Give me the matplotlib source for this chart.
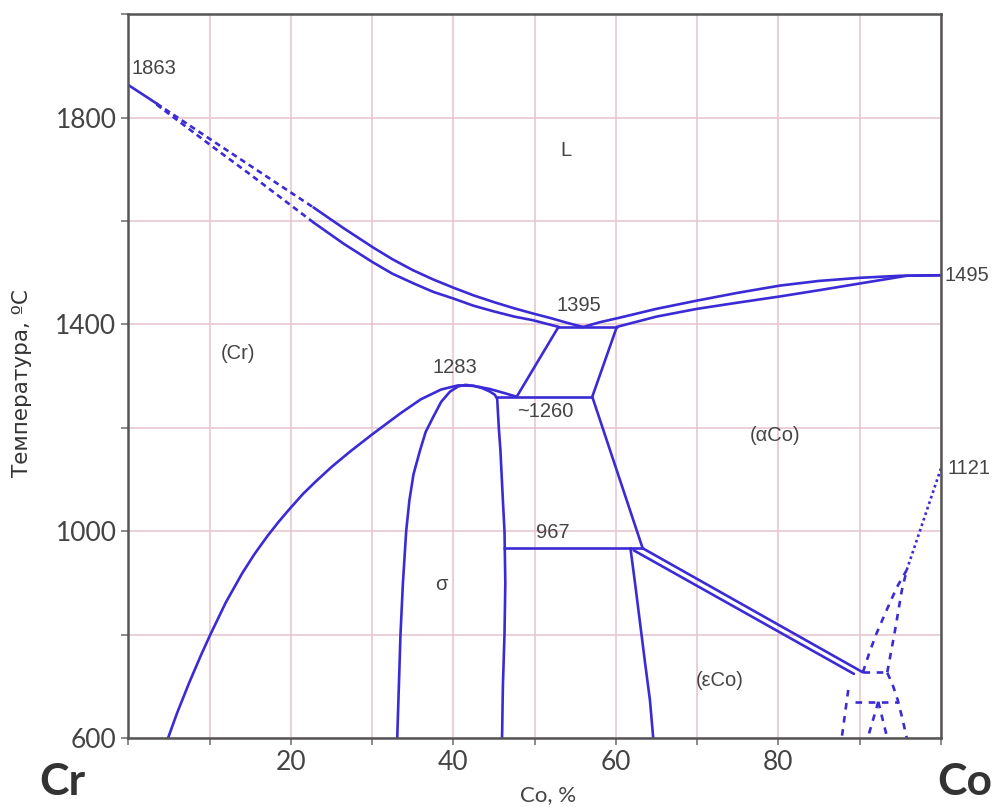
import numpy as np
import matplotlib
matplotlib.use('Agg')
import matplotlib.pyplot as plt

# liquidus / solidus, Cr side (dashed part, then solid part)
liq_cr_dash_x = [0, 3.5, 10, 15, 22.8]
liq_cr_dash_y = [1863, 1827, 1759, 1707, 1626]
sol_cr_dash_x = [0, 3.5, 10, 15, 22.8]
sol_cr_dash_y = [1863, 1825, 1748, 1690, 1597]
liq_cr_x = [22.8, 26.5, 30.1, 32.5, 35, 37.5, 40, 42.5, 45, 47.5, 49.8, 52, 54, 55.2, 56]
liq_cr_y = [1626, 1586, 1549, 1526, 1505, 1487, 1471, 1456, 1443, 1431, 1421, 1412, 1403, 1398, 1395]
sol_cr_x = [22.8, 26.5, 30.1, 32.5, 35, 37.5, 40, 42.5, 45, 47.5, 49.8, 51.5, 53]
sol_cr_y = [1597, 1556, 1520, 1498, 1480, 1463, 1450, 1436, 1425, 1415, 1408, 1401, 1395]

# liquidus / solidus, Co side
liq_co_x = [56, 58, 60.5, 65, 70, 75, 80.2, 85, 90, 95, 100]
liq_co_y = [1395, 1404, 1413, 1430, 1446, 1461, 1475, 1484, 1490, 1494, 1495]
sol_co_x = [60.1, 65, 70, 75, 80.2, 85, 90, 95.8, 100]
sol_co_y = [1395, 1415, 1430, 1442, 1454, 1466, 1479, 1494, 1495]

# (Cr) solvus
cr_solv_x = [4.9, 6, 7.5, 9, 10.1, 12, 14, 15.5, 17.1, 18.5, 19.8, 21.5, 23, 25, 27.3, 30, 33.5, 36,
             38.5, 40.6, 42.5, 44.5, 46.3, 47.8]
cr_solv_y = [600, 648, 707, 762, 800, 862, 918, 955, 990, 1018, 1042, 1072, 1095, 1124, 1154, 1187,
             1228, 1255, 1274, 1282, 1281, 1275, 1267, 1260]

# sigma dome
sig_x = [33.1, 33.5, 33.8, 34.2, 34.6, 35.1, 35.9, 36.6, 37.5, 38.5, 39.6, 40.6, 41.5, 42.5, 43.5, 44.5,
         45.1, 45.4, 45.6, 45.8, 46.1, 46.3, 46.4, 46.3, 46.1, 46.0]
sig_y = [600, 800, 900, 1000, 1060, 1110, 1156, 1192, 1220, 1250, 1270, 1280, 1283, 1281, 1277, 1270,
         1264, 1256, 1200, 1156, 1060, 1000, 900, 800, 700, 600]

# horizontals and connecting lines
t1395_x, t1395_y = [52.9, 60.1], [1394, 1394]
t1260_x, t1260_y = [45.4, 57.1], [1260, 1260]
sl_left_x, sl_left_y = [47.8, 52.9], [1260, 1394]
sl_right_x, sl_right_y = [57.1, 60.1], [1260, 1394]
down_x, down_y = [57.1, 63.3], [1260, 967]
t967_x, t967_y = [46.3, 63.3], [967, 967]
eps_sig_x = [61.8, 62.4, 63.0, 63.6, 64.2, 64.6]
eps_sig_y = [967, 895, 820, 745, 673, 600]
dbl_up_x, dbl_up_y = [63.3, 90.4], [967, 727]
dbl_lo_x, dbl_lo_y = [62.2, 89.3], [963, 724]

# Co-rich end, dashed
co_l_x = [90.4, 91.2, 92.1, 93.4, 94.6, 95.8]
co_l_y = [727, 765, 803, 850, 892, 925]
co_r_x = [93.4, 94.3, 95.2, 95.8]
co_r_y = [727, 803, 886, 925]
co_dot_x, co_dot_y = [95.8, 100], [925, 1121]
co_t727_x, co_t727_y = [90.4, 93.4], [727, 727]
co_rd_x = [93.4, 94.0, 94.7, 95.3, 95.8]
co_rd_y = [726, 706, 673, 635, 600]
co_t670_x, co_t670_y = [89.4, 94.7], [670, 670]
co_lv_x, co_lv_y = [88.6, 87.8], [693, 600]
co_m1_x, co_m1_y = [92.3, 91.0], [670, 600]
co_m2_x, co_m2_y = [92.3, 93.4], [670, 600]

labels = [
    ('1863', 0.4, 1895, 'left'),
    ('L', 53.8, 1736, 'center'),
    ('1395', 55.4, 1437, 'center'),
    ('(Cr)', 13.5, 1344, 'center'),
    ('1283', 40.2, 1317, 'center'),
    ('~1260', 51.3, 1232, 'center'),
    ('(\u03b1Co)', 79.6, 1185, 'center'),
    ('1495', 100.5, 1495, 'left'),
    ('1121', 100.8, 1122, 'left'),
    ('967', 52.3, 998, 'center'),
    ('\u03c3', 38.5, 896, 'center'),
    ('(\u03b5Co)', 72.8, 712, 'center'),
]

blue = '#3b2bd6'
lw = 1.9

fig = plt.figure(figsize=(10.02, 8.07), dpi=100)
ax = fig.add_axes([0.128, 0.0855, 0.811, 0.897])

for x, y in [(liq_cr_x, liq_cr_y), (sol_cr_x, sol_cr_y), (liq_co_x, liq_co_y), (sol_co_x, sol_co_y),
             (cr_solv_x, cr_solv_y), (sig_x, sig_y), (t1395_x, t1395_y), (t1260_x, t1260_y),
             (sl_left_x, sl_left_y), (sl_right_x, sl_right_y), (down_x, down_y), (t967_x, t967_y),
             (eps_sig_x, eps_sig_y), (dbl_up_x, dbl_up_y), (dbl_lo_x, dbl_lo_y)]:
    ax.plot(x, y, color=blue, lw=lw, solid_capstyle='round', solid_joinstyle='round')

ax.plot(liq_cr_dash_x[:2], liq_cr_dash_y[:2], color=blue, lw=lw)
ax.plot(liq_cr_dash_x[1:], liq_cr_dash_y[1:], color=blue, lw=lw, dashes=(2.2, 1.6))
ax.plot(sol_cr_dash_x[1:], sol_cr_dash_y[1:], color=blue, lw=lw, dashes=(2.2, 1.6))

for x, y in [(co_l_x, co_l_y), (co_r_x, co_r_y), (co_t727_x, co_t727_y), (co_rd_x, co_rd_y),
             (co_t670_x, co_t670_y), (co_lv_x, co_lv_y), (co_m1_x, co_m1_y), (co_m2_x, co_m2_y)]:
    ax.plot(x, y, color=blue, lw=lw, dashes=(2.5, 2.5))
ax.plot(co_dot_x, co_dot_y, color=blue, lw=lw, dashes=(1, 1.2))

for txt, x, y, ha in labels:
    ax.text(x, y, txt, ha=ha, va='center', fontsize=14.5, color='#444444',
            family='Liberation Sans', clip_on=False)

ax.set_xlim(0, 100)
ax.set_ylim(600, 2000)
ax.set_xticks(np.arange(0, 101, 10))
ax.set_xticklabels(['', '', '20', '', '40', '', '60', '', '80', '', ''])
ax.set_yticks(np.arange(600, 2001, 200))
ax.set_yticklabels(['600', '', '1000', '', '1400', '', '1800', ''])
ax.grid(True, color='#e6c3cb', lw=1.1)
ax.set_axisbelow(True)
for s in ax.spines.values():
    s.set_color('#555555')
    s.set_linewidth(1.8)
ax.tick_params(axis='both', color='#777777', length=5, width=1.2, labelcolor='#444444')
for t in ax.get_xticklabels() + ax.get_yticklabels():
    t.set_family('Lato')
    t.set_fontsize(19)

fig.text(0.062, 0.031, 'Cr', fontsize=32, fontweight='bold', family='Lato', ha='center', va='center', color='#333333')
fig.text(0.963, 0.031, 'Co', fontsize=32, fontweight='bold', family='Lato', ha='center', va='center', color='#333333')
fig.text(0.547, 0.015, 'Co, %', fontsize=16, family='Lato', ha='center', va='center', color='#444444')
fig.text(0.022, 0.525, 'Температура, ºС', fontsize=15.5, family='DejaVu Sans', rotation=90,
         ha='center', va='center', color='#333333')

fig.savefig('out.png', dpi=100)
